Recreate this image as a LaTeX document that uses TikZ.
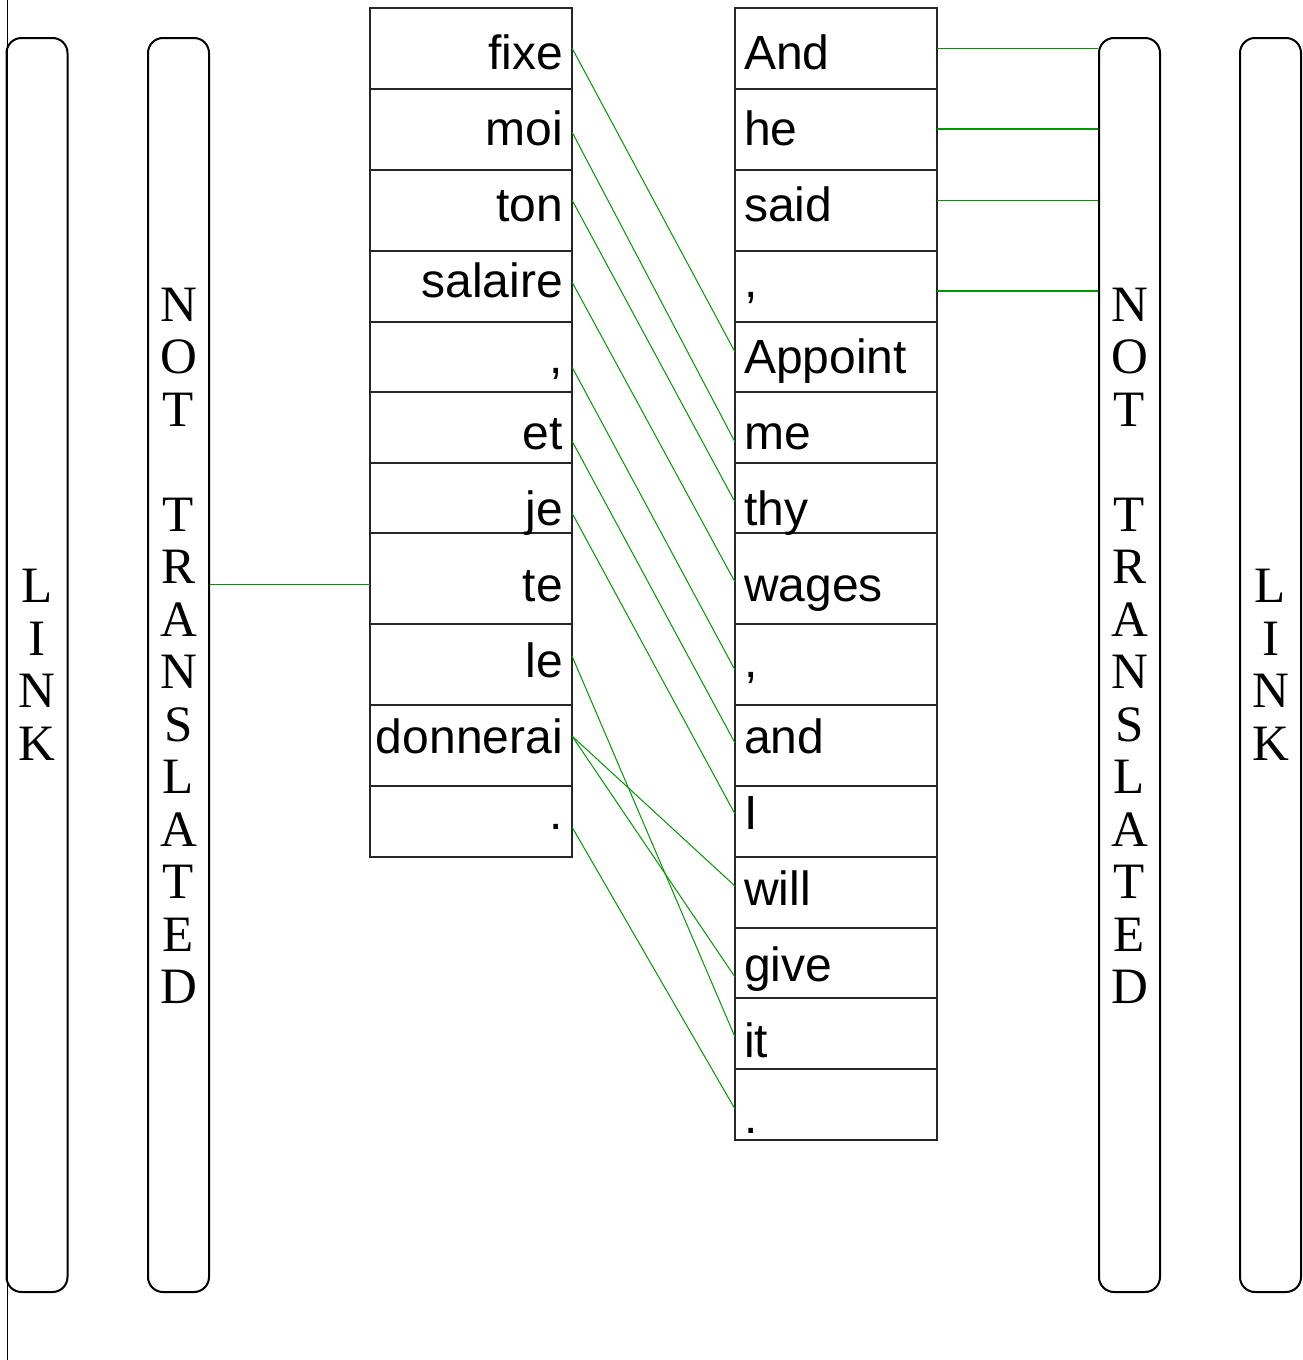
\documentclass[tikz,border=0pt]{standalone}
\usepackage{fontspec}
\setmainfont{Liberation Serif}
\setsansfont{Liberation Sans}
\definecolor{linkgreen}{RGB}{0,150,0}
\begin{document}
\begin{tikzpicture}[x=1pt,y=-1pt]
  \tikzset{
    cell/.style={draw=black!85,line width=1.2pt},
    word/.style={inner sep=0pt,font=\sffamily\fontsize{48}{58}\selectfont},
    band/.style={draw,line width=2pt,rounded corners=15pt,minimum width=61pt,minimum height=1254pt,inner sep=0pt},
    vtext/.style={inner sep=0pt,align=center,font=\fontsize{51}{52.5}\selectfont},
    link/.style={linkgreen,line width=1pt},
    skip/.style={link,line width=1.5pt},}
  \useasboundingbox (0,0) rectangle (1303,1360);
  \draw (7,0) -- (7,1360);
  % side bands
  \node[band] (linkL) at (37,665) {};
  \node[band] (ntL) at (178.5,665) {};
  \node[band] (ntR) at (1129.5,665) {};
  \node[band] (linkR) at (1270.5,665) {};
  \node[vtext] at (linkL) {L\\I\\N\\K};
  \node[vtext] at (linkR) {L\\I\\N\\K};
  \node[vtext] at (178.5,646) {N\\O\\T\\[52.5pt]T\\R\\A\\N\\S\\L\\A\\T\\E\\D};
  \node[vtext] at (1129.5,646) {N\\O\\T\\[52.5pt]T\\R\\A\\N\\S\\L\\A\\T\\E\\D};
  % French column
  \foreach \a/\b in {8/89,89/170,170/251,251/322,322/392,392/463,463/533,533/624,624/705,705/786,786/857}
    \draw[cell] (370,\a) rectangle (572,\b);
  \foreach \w [count=\i from 0] in {fixe,moi,ton,salaire,{,},et,je,te,le,donnerai,.}
    \node[word,anchor=base east] (fr\i) at (563,69+76*\i) {\w};
  % English column
  \foreach \a/\b in {8/89,89/170,170/251,251/322,322/392,392/463,463/533,533/624,624/705,705/786,786/857,857/928,928/998,998/1069,1069/1140}
    \draw[cell] (735,\a) rectangle (937,\b);
  \foreach \w [count=\i from 0] in {And,he,said,{,},Appoint,me,thy,wages,{,},and,I,will,give,it,.}
    \node[word,anchor=base west] (en\i) at (744,69+76*\i) {\w};
  % link ends
  \foreach \y [count=\i from 0] in {48,132,200,282,367,441,513,584.5,656,736,827}
    \coordinate (frR\i) at (572,\y);
  \coordinate (frL7) at (370,584.5);
  \foreach \i/\y in {0/48.5,1/129,2/200.5,3/291}
    \coordinate (enR\i) at (937,\y);
  \foreach \i/\y in {4/352,5/442,6/502,7/582,8/670,9/743,10/814,11/886,12/977,13/1037,14/1109}
    \coordinate (enL\i) at (735,\y);
  % alignment links
  \foreach \s/\t in {0/4,1/5,2/6,3/7,4/8,5/9,6/10,8/13,9/11,9/12,10/14}
    \draw[link] (frR\s) -- (enL\t);
  \draw[skip] (frL7) -- (ntL.east |- frL7);
  \foreach \i in {0,...,3}
    \draw[skip] (enR\i) -- (ntR.west |- enR\i);
\end{tikzpicture}
\end{document}
